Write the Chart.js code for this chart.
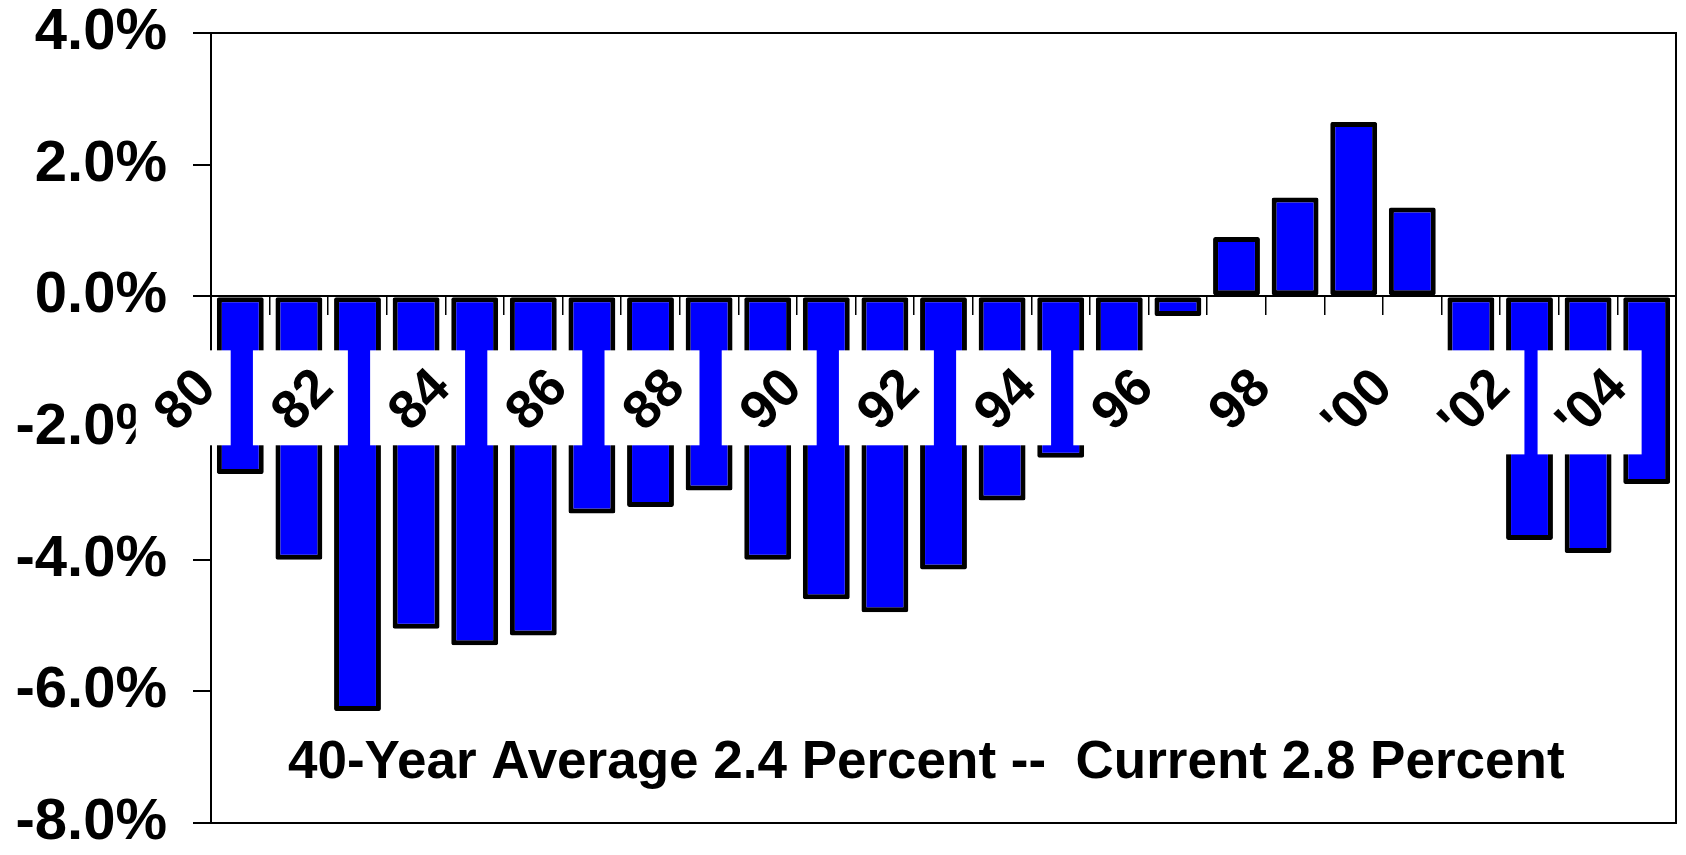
<!DOCTYPE html>
<html>
<head>
<meta charset="utf-8">
<script src="https://cdn.jsdelivr.net/npm/chart.js@4.4.0/dist/chart.umd.min.js"></script>
<style>
  html, body { margin: 0; padding: 0; background: #fff; }
  #wrap { width: 1686px; height: 855px; }
</style>
</head>
<body>
<div id="wrap"><canvas id="deficit-chart" width="1686" height="855"></canvas></div>
<script>
// budget balance as % of GDP, one bar per year
const years = [1981, 1982, 1983, 1984, 1985, 1986, 1987, 1988, 1989, 1990,
  1991, 1992, 1993, 1994, 1995, 1996, 1997, 1998, 1999, 2000,
  2001, 2002, 2003, 2004, 2005];
const balancePct = [-2.7, -4.0, -6.3, -5.05, -5.3, -5.15, -3.3, -3.2, -2.95, -4.0,
  -4.6, -4.8, -4.15, -3.1, -2.45, -1.4, -0.3, 0.9, 1.5, 2.65,
  1.35, -1.5, -3.7, -3.9, -2.85];

// year labels shown on the axis (every other year, starting one slot before the first bar)
const tickYears = [1980, 1982, 1984, 1986, 1988, 1990, 1992, 1994, 1996, 1998, 2000, 2002, 2004];
const tickLabels = ["80", "82", "84", "86", "88", "90", "92", "94", "96", "98", "'00", "'02", "'04"];

const noteText = "40-Year Average 2.4 Percent --  Current 2.8 Percent";

const FONT = '"Liberation Sans", Arial, Helvetica, sans-serif';

const frameAndNote = {
  id: "frameAndNote",
  afterDatasetsDraw(chart) {
    const { ctx, chartArea } = chart;
    ctx.save();
    ctx.strokeStyle = "#000";
    ctx.lineWidth = 2;
    ctx.strokeRect(chartArea.left, chartArea.top, chartArea.right - chartArea.left, chartArea.bottom - chartArea.top);

    ctx.fillStyle = "#000";
    ctx.font = "bold 53px " + FONT;
    ctx.textAlign = "left";
    ctx.textBaseline = "alphabetic";
    ctx.fillText(noteText, chartArea.left + 77, chartArea.bottom - 45);
    ctx.restore();
  }
};

// rotated year labels sitting on white boxes over the bars
const yearLabels = {
  id: "yearLabels",
  afterDraw(chart) {
    const { ctx } = chart;
    const x = chart.scales.x;
    const y = chart.scales.y;
    const zero = y.getPixelForValue(0);
    const size = 54;
    ctx.save();
    ctx.font = "bold " + size + "px " + FONT;
    tickLabels.forEach((label, i) => {
      const cx = x.getPixelForValue(tickYears[i] - years[0]) + 1.5;
      const w = ctx.measureText(label).width;
      const side = (w + size * 0.72) / Math.SQRT2 + 25;
      const top = zero + 54;
      ctx.fillStyle = "#fff";
      ctx.fillRect(cx - side / 2, top, side, side);

      ctx.save();
      ctx.translate(cx, top + side / 2);
      ctx.rotate(-Math.PI / 4);
      ctx.fillStyle = "#000";
      ctx.textAlign = "center";
      ctx.textBaseline = "alphabetic";
      ctx.fillText(label, 0, size * 0.36);
      ctx.restore();
    });
    ctx.restore();
  }
};

new Chart(document.getElementById("deficit-chart"), {
  type: "bar",
  data: {
    labels: years.map(String),
    datasets: [
      {
        data: balancePct,
        backgroundColor: "#0000FF",
        borderColor: "#000000",
        borderWidth: 5,
        borderSkipped: false,
        borderRadius: 2,
        barPercentage: 0.8,
        categoryPercentage: 1.0
      }
    ]
  },
  options: {
    responsive: false,
    animation: false,
    devicePixelRatio: 1,
    layout: { padding: { left: 0, top: 33, right: 10, bottom: 32 } },
    plugins: {
      legend: { display: false },
      tooltip: { enabled: false }
    },
    scales: {
      x: {
        position: { y: 0 },
        offset: true,
        grid: {
          offset: true,
          drawOnChartArea: false,
          drawTicks: true,
          tickLength: 18,
          color: "#000",
          lineWidth: 1.5
        },
        border: { display: true, color: "#000", width: 2 },
        ticks: { display: false }
      },
      y: {
        min: -8,
        max: 4,
        ticks: {
          stepSize: 2,
          padding: 26,
          color: "#000",
          font: { family: FONT, size: 58, weight: "bold", lineHeight: 1 },
          callback: (v) => v.toFixed(1) + "%"
        },
        grid: {
          drawOnChartArea: false,
          tickLength: 18,
          color: "#000",
          lineWidth: 2
        },
        border: { display: true, color: "#000", width: 2 },
        afterFit(scale) {
          scale.width = 211;
          scale.paddingTop = 0;
          scale.paddingBottom = 0;
        }
      }
    }
  },
  plugins: [frameAndNote, yearLabels]
});
</script>
</body>
</html>
